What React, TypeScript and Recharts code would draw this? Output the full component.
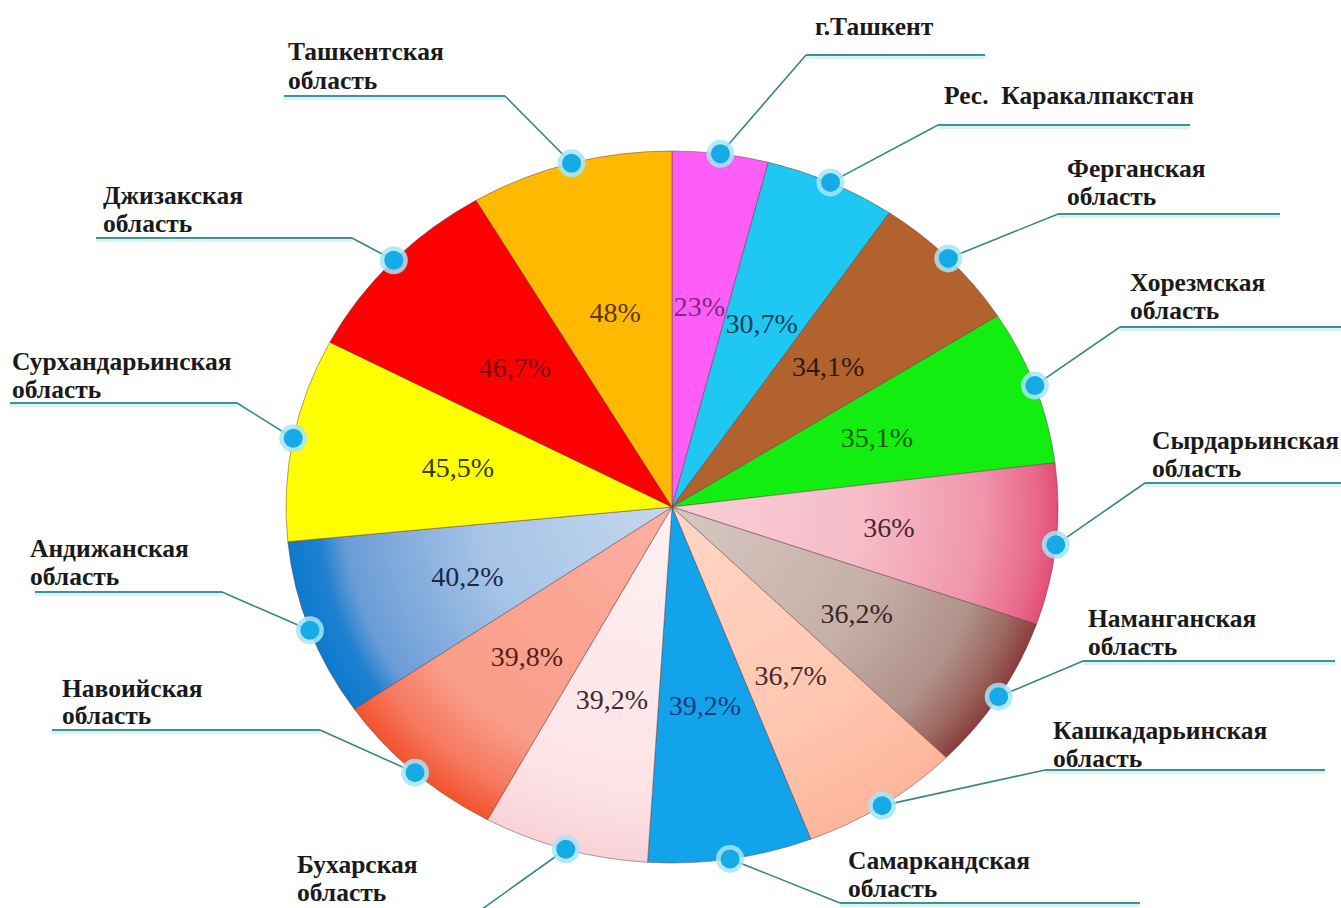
import React from 'react';
import { PieChart, Pie, Cell } from 'recharts';

const regions = [
  'г.Ташкент',
  'Рес.  Каракалпакстан',
  'Ферганская\nобласть',
  'Хорезмская\nобласть',
  'Сырдарьинская\nобласть',
  'Наманганская\nобласть',
  'Кашкадарьинская\nобласть',
  'Самаркандская\nобласть',
  'Бухарская\nобласть',
  'Навоийская\nобласть',
  'Андижанская\nобласть',
  'Сурхандарьинская\nобласть',
  'Джизакская\nобласть',
  'Ташкентская\nобласть',
];

const values = [23, 30.7, 34.1, 35.1, 36, 36.2, 36.7, 39.2, 39.2, 39.8, 40.2, 45.5, 46.7, 48];

const percentLabels = values.map((v) => `${String(v).replace('.', ',')}%`);

// styles
const sliceColors = [
  '#FF5EF6', '#1FC8F3', '#B2622C', '#12EE10', '#F2A6B8', '#B89A92', '#FFC8B4',
  '#12A3EA', '#FDE6E9', '#F99E8C', '#8CB4E0', '#FFFF00', '#FF0000', '#FFB900',
];

const gradients: Record<number, [number, string][]> = {
  4: [[0, '#F8D0D8'], [0.5, '#F6BCC8'], [0.8, '#F096AC'], [0.95, '#E8678A'], [1, '#E24E74']],
  5: [[0, '#D6C8C2'], [0.55, '#C6B0A8'], [0.82, '#B0928A'], [0.93, '#9C665F'], [1, '#8A3E3E']],
  6: [[0, '#FFD6C6'], [0.7, '#FFC6B0'], [1, '#FDB59C']],
  8: [[0, '#FEF0F1'], [0.8, '#FCE3E6'], [1, '#F8D2D7']],
  9: [[0, '#FCB0A2'], [0.75, '#F99C88'], [0.9, '#F6785E'], [1, '#F2522C']],
  10: [[0, '#C4D8EE'], [0.5, '#A6C4E6'], [0.85, '#6A9CD6'], [0.92, '#1E80D0'], [1, '#0C7ACD']],
};

const percentColors = [
  '#7A2A86', '#123E5C', '#2E1808', '#1C5A12', '#4A2632', '#3A2626', '#4A2A28',
  '#173C7A', '#3A2A2E', '#5A1C16', '#1A2846', '#3A3A00', '#7A0A0A', '#5A3A00',
];

const labelLayout = [
  { ex: 806, ey: 55, end: 985, tx: 815, by: [35] },
  { ex: 938, ey: 125, end: 1190, tx: 944, by: [104] },
  { ex: 1058, ey: 214, end: 1280, tx: 1067, by: [177, 205] },
  { ex: 1120, ey: 327, end: 1341, tx: 1130, by: [291, 319] },
  { ex: 1145, ey: 483, end: 1341, tx: 1152, by: [449, 477] },
  { ex: 1083, ey: 661, end: 1335, tx: 1088, by: [627, 655] },
  { ex: 1045, ey: 770, end: 1325, tx: 1053, by: [739, 767] },
  { ex: 840, ey: 903, end: 1140, tx: 848, by: [869, 897] },
  { ex: 478, ey: 912, end: 290, tx: 297, by: [873, 901] },
  { ex: 320, ey: 730, end: 52, tx: 62, by: [697, 724] },
  { ex: 222, ey: 592, end: 35, tx: 30, by: [557, 585] },
  { ex: 237, ey: 403, end: 10, tx: 12, by: [370, 398] },
  { ex: 352, ey: 238, end: 96, tx: 103, by: [204, 232] },
  { ex: 505, ey: 96, end: 284, tx: 288, by: [60, 89] },
];

const FONT = 'Liberation Serif';

const data = regions.map((name, idx) => ({ name, value: values[idx], idx }));

const Y_RATIO = 356 / 386;

function ellipsePoint(cx: number, cy: number, rx: number, ry: number, angDeg: number) {
  const a = (angDeg * Math.PI) / 180;
  const c = Math.cos(a);
  const s = Math.sin(a);
  const r = 1 / Math.sqrt((c * c) / (rx * rx) + (s * s) / (ry * ry));
  return [cx + r * c, cy - r * s];
}

const EllipseSector = (props: any) => {
  const { cx, cy, outerRadius, startAngle, endAngle } = props;
  const i = props.idx ?? props.payload?.idx ?? props.index ?? 0;
  const rx = outerRadius;
  const ry = outerRadius * Y_RATIO;
  const [x1, y1] = ellipsePoint(cx, cy, rx, ry, startAngle);
  const [x2, y2] = ellipsePoint(cx, cy, rx, ry, endAngle);
  const large = Math.abs(endAngle - startAngle) > 180 ? 1 : 0;
  const sweep = startAngle > endAngle ? 1 : 0;
  const d = `M${cx},${cy} L${x1},${y1} A${rx},${ry} 0 ${large} ${sweep} ${x2},${y2} Z`;
  const g = gradients[i];
  const gid = `slice-grad-${i}`;
  return (
    <g>
      {g && (
        <defs>
          <radialGradient
            id={gid}
            gradientUnits="userSpaceOnUse"
            cx={cx}
            cy={cy}
            r={rx}
            gradientTransform={`translate(${cx} ${cy}) scale(1 ${Y_RATIO}) translate(${-cx} ${-cy})`}
          >
            {g.map(([o, c], k) => (
              <stop key={k} offset={o} stopColor={c} />
            ))}
          </radialGradient>
        </defs>
      )}
      <path
        d={d}
        fill={g ? `url(#${gid})` : sliceColors[i]}
        stroke="#6a3a40"
        strokeOpacity={0.55}
        strokeWidth={0.9}
      />
    </g>
  );
};

const renderLabel = (props: any) => {
  const { cx, cy, midAngle, outerRadius } = props;
  const i = props.index ?? props.payload?.idx ?? 0;
  const rx = outerRadius;
  const ry = outerRadius * Y_RATIO;
  const [px, py] = ellipsePoint(cx, cy, rx * 0.565, ry * 0.565, midAngle);
  const [dx, dy] = ellipsePoint(cx, cy, rx, ry, midAngle);
  const L = labelLayout[i];
  const lines = regions[i].split('\n');
  const left = L.end < L.ex;
  const x1 = left ? L.end : L.ex;
  const x2 = left ? L.ex : L.end;
  return (
    <g>
      <text
        x={px}
        y={py + 9}
        textAnchor="middle"
        style={{ fontFamily: FONT, fontSize: 28 }}
        fill={percentColors[i]}
      >
        {percentLabels[i]}
      </text>
      <line x1={x1} y1={L.ey + 2} x2={x2} y2={L.ey + 2} stroke="#c6f0f0" strokeWidth={4} strokeOpacity={0.7} />
      <line x1={x1} y1={L.ey} x2={x2} y2={L.ey} stroke="#3f9390" strokeWidth={2.2} />
      <line x1={dx} y1={dy} x2={L.ex} y2={L.ey} stroke="#3a8683" strokeWidth={1.6} />
      <circle cx={dx} cy={dy} r={14} fill="#a6e6f8" fillOpacity={0.85} />
      <circle cx={dx} cy={dy} r={9.5} fill="#16abe6" />
      {lines.map((ln, k) => (
        <text
          key={k}
          x={L.tx}
          y={L.by[k]}
          fill="#1a1a1a"
          style={{ fontFamily: FONT, fontWeight: 'bold', fontSize: 25.5, whiteSpace: 'pre' }}
        >
          {ln}
        </text>
      ))}
    </g>
  );
};

export default function App() {
  return (
    <div style={{ position: 'absolute', left: 0, top: 0, width: 1341, height: 908, background: '#fff' }}>
      <PieChart width={1341} height={908} margin={{ top: 0, right: 0, bottom: 0, left: 0 }}>
        <Pie
          data={data}
          dataKey="value"
          nameKey="name"
          cx={672}
          cy={507}
          outerRadius={386}
          startAngle={90}
          endAngle={-270}
          isAnimationActive={false}
          label={renderLabel}
          labelLine={false}
          shape={EllipseSector}
          activeShape={EllipseSector}
          inactiveShape={EllipseSector}
          stroke="none"
        >
          {data.map((d) => (
            <Cell key={d.idx} fill={sliceColors[d.idx]} />
          ))}
        </Pie>
      </PieChart>
    </div>
  );
}
